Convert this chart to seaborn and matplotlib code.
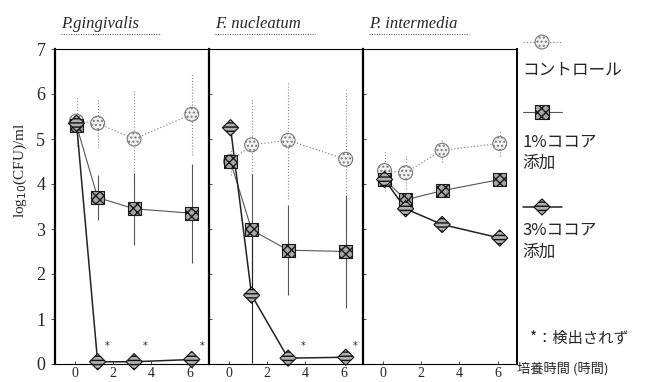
import matplotlib
matplotlib.use("Agg")
import matplotlib.pyplot as plt
import seaborn as sns
import pandas as pd
from matplotlib.lines import Line2D

# 培養時間（時間）
times = [0.1, 1.2, 3.1, 6.1]
species = ["P.gingivalis", "F. nucleatum", "P. intermedia"]

# log10(CFU)/ml : パネルごと（P.g, F.n, P.i）
ctrl_mean = [[5.4, 5.35, 5.0, 5.55], [4.5, 4.87, 4.97, 4.55], [4.3, 4.25, 4.75, 4.9]]
ctrl_err = [[0.55, 0.55, 1.1, 0.9], [0.3, 1.05, 1.3, 1.55], [0.45, 0.37, 0.25, 0.28]]
c1_mean = [[5.3, 3.7, 3.45, 3.35], [4.5, 2.98, 2.53, 2.5], [4.1, 3.65, 3.85, 4.1]]
c1_err = [[0, 0.5, 0.8, 1.1], [0, 1.25, 1.0, 1.25], [0, 0.15, 0.1, 0.1]]
c3_mean = [[5.35, 0.05, 0.05, 0.1], [5.25, 1.53, 0.13, 0.15], [4.1, 3.45, 3.1, 2.8]]
c3_err = [[0, 0, 0, 0], [0, 1.5, 0, 0], [0, 0.1, 0, 0]]

# 検出されず（*）の位置
nd_x = [[1.7, 3.65, 6.65], [3.9, 6.6], []]
nd_y = 0.4

serif = "Liberation Serif"
jp = ["Noto Sans CJK JP", "DejaVu Sans"]

sns.set_style("ticks")
plt.rcParams["font.family"] = serif

fig = plt.figure(figsize=(6.52, 3.82), dpi=100)
W, H = 652, 382
lefts = [55, 209, 363]
pw = 154
bot, top = 364, 49

groups = [
    ("ctrl", ctrl_mean, ctrl_err),
    ("c1", c1_mean, c1_err),
    ("c3", c3_mean, c3_err),
]
style = {
    "ctrl": dict(color="#8a8a8a", ls=":", lw=0.9, marker="o", s=100, fc="#f2f2f2", ec="#7a7a7a", hatch="....", els=":"),
    "c1": dict(color="#555555", ls="-", lw=0.8, marker="s", s=90, fc="#a8a8a8", ec="#1a1a1a", hatch="xxxx", els="-"),
    "c3": dict(color="#222222", ls="-", lw=1.1, marker="D", s=68, fc="#b0b0b0", ec="#111111", hatch="----", els="-"),
}

for i, sp in enumerate(species):
    ax = fig.add_axes([lefts[i] / W, (H - bot) / H, pw / W, (bot - top) / H])
    for key, means, errs in groups:
        st = style[key]
        df = pd.DataFrame({"t": times, "v": means[i]})
        sns.lineplot(data=df, x="t", y="v", ax=ax, color=st["color"], linestyle=st["ls"],
                     lw=st["lw"], zorder=2, clip_on=False)
        ax.errorbar(times, means[i], yerr=errs[i], fmt="none", ecolor=st["color"],
                    elinewidth=0.8, capsize=0, linestyle=st["els"], zorder=1)
        for coll in ax.collections[-1:]:
            coll.set_linestyle(st["els"])
        sns.scatterplot(data=df, x="t", y="v", ax=ax, marker=st["marker"], s=st["s"],
                        color=st["fc"], edgecolor=st["ec"], linewidth=0.8,
                        hatch=st["hatch"], zorder=4, clip_on=False, legend=False)
    for x in nd_x[i]:
        ax.text(x, nd_y, "*", fontsize=7, ha="center", va="center", family="DejaVu Sans")

    ax.set_xlim(-1.02, 7.0)
    ax.set_ylim(0, 7)
    ax.set_xticks([0, 2, 4, 6])
    ax.set_xticklabels(["0", "2", "4", "6"], fontsize=10, family=serif)
    ax.set_yticks(range(8))
    ax.set_xlabel("")
    ax.set_ylabel("")
    ax.tick_params(axis="x", direction="in", length=2, pad=2, width=0.6)
    if i == 0:
        ax.set_yticklabels([str(k) for k in range(8)], fontsize=13, family=serif)
        ax.tick_params(axis="y", direction="out", length=3, pad=4, width=0.6)
    else:
        ax.set_yticklabels([])
        ax.tick_params(axis="y", direction="in", length=2, width=0.6)
    for side in ["left", "right", "top", "bottom"]:
        ax.spines[side].set_visible(True)
        ax.spines[side].set_color("black")
    ax.spines["left"].set_linewidth(1.6)
    ax.spines["right"].set_linewidth(1.4 if i == 2 else 0)
    ax.spines["top"].set_linewidth(0.8)
    ax.spines["top"].set_linestyle((0, (2, 1)))
    ax.spines["bottom"].set_linewidth(0.8)

    # タイトル（斜体・点線下線）
    tx = (lefts[i] + 6) / W
    fig.text(tx, 1 - 24 / H, sp, fontsize=12, style="italic", family=serif, va="center", ha="left")
    fig.add_artist(Line2D([tx, tx + 100 / W], [1 - 34 / H, 1 - 34 / H], color="#444444",
                          lw=0.7, ls=(0, (1, 1.5))))

fig.text(20 / W, 1 - 170 / H, "log$_{10}$(CFU)/ml", rotation=90, fontsize=11,
         family=serif, ha="center", va="center")

# 凡例（右側）
lg = fig.add_axes([520 / W, 0, 132 / W, 1])
lg.set_xlim(0, 132)
lg.set_ylim(382, 0)
lg.axis("off")
leg_items = [("ctrl", 42, ["コントロール"], [70]),
             ("c1", 112, ["1%ココア", "添加"], [142, 163]),
             ("c3", 207, ["3%ココア", "添加"], [230, 252])]
for key, my, labels, ly in leg_items:
    st = style[key]
    lg.plot([3, 42], [my, my], color=st["color"], ls=st["ls"], lw=st["lw"])
    lg.scatter([22], [my], marker=st["marker"], s=st["s"], color=st["fc"], edgecolor=st["ec"],
               linewidth=0.8, hatch=st["hatch"], zorder=3)
    for lab, yy in zip(labels, ly):
        lg.text(2, yy, lab, fontsize=12, family=jp, va="center", ha="left")
lg.text(10, 338, "*：検出されず", fontsize=11, family=jp, va="center", ha="left")
lg.text(-3, 369, "培養時間 (時間)", fontsize=9.5, family=jp, va="center", ha="left")

fig.savefig("out.png", dpi=100)
